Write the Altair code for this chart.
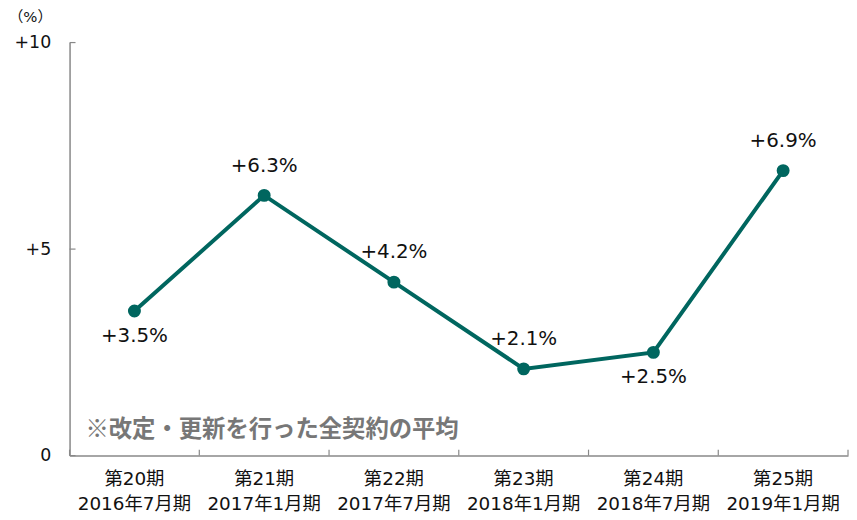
import altair as alt
import pandas as pd

periods = ["第20期\n2016年7月期", "第21期\n2017年1月期", "第22期\n2017年7月期",
           "第23期\n2018年1月期", "第24期\n2018年7月期", "第25期\n2019年1月期"]
values = [3.5, 6.3, 4.2, 2.1, 2.5, 6.9]
labels = ["+3.5%", "+6.3%", "+4.2%", "+2.1%", "+2.5%", "+6.9%"]
label_below = [True, False, False, False, True, False]
y_ticks = [0, 5, 10]
note = "※改定・更新を行った全契約の平均"

df = pd.DataFrame({"period": periods, "value": values, "label": labels, "below": label_below})
tick_df = pd.DataFrame({"value": y_ticks})

FONT = "DejaVu Sans, Noto Sans CJK JP"
COLOR = "#00665F"
AX = "#888888"
W, H = 784, 416

xscale = alt.Scale(domain=periods, paddingInner=0, paddingOuter=0)
xaxis = alt.Axis(labelAngle=0, labelExpr="split(datum.label, '\\n')",
                 labelFont=FONT, labelFontSize=18.5, labelColor="#111",
                 labelPadding=14, labelLineHeight=25, ticks=False, grid=False,
                 domainColor=AX, domainWidth=1.5)
x = alt.X("period:N", sort=periods, title=None, scale=xscale, axis=xaxis)
yscale = alt.Scale(domain=[0, 10], nice=False, zero=True)
yaxis = alt.Axis(values=y_ticks, grid=False, ticks=False,
                 labelExpr="datum.value > 0 ? '+' + datum.label : datum.label",
                 labelFont=FONT, labelFontSize=17.5, labelColor="#111", labelPadding=19,
                 domainColor=AX, domainWidth=1.5,
                 titleAngle=0, titleAlign="left", titleBaseline="top",
                 titleX=-62, titleY=-33, titleFont=FONT, titleFontSize=15,
                 titleFontWeight="normal", titleColor="#111")
y = alt.Y("value:Q", title="（%）", scale=yscale, axis=yaxis)

base = alt.Chart(df)
line = base.mark_line(color=COLOR, strokeWidth=4).encode(x=x, y=y)
pts = base.mark_point(filled=True, color=COLOR, size=170, opacity=1).encode(x=x, y=y)
txt_above = base.transform_filter("!datum.below").mark_text(
    font=FONT, fontSize=20, color="#111", dy=-30, baseline="middle").encode(
    x=x, y=y, text="label:N")
txt_below = base.transform_filter("datum.below").mark_text(
    font=FONT, fontSize=20, color="#111", dy=25, baseline="middle").encode(
    x=x, y=y, text="label:N")

# inward ticks (Excel style)
ytick = alt.Chart(tick_df).mark_rule(color=AX, strokeWidth=1.2).encode(
    y=y, x=alt.value(0), x2=alt.value(6))
xtick = base.mark_rule(color=AX, strokeWidth=1.2).encode(
    x=alt.X("period:N", sort=periods, title=None, scale=xscale, axis=xaxis, bandPosition=0),
    y=alt.value(H), y2=alt.value(H - 6))
xtick_end = alt.Chart(tick_df.head(1)).mark_rule(color=AX, strokeWidth=1.2).encode(
    x=alt.value(W), y=alt.value(H), y2=alt.value(H - 6))

note_df = pd.DataFrame({"t": [note]})
note_txt = alt.Chart(note_df).mark_text(
    font="Noto Sans CJK JP", fontSize=23.5, fontWeight="bold", color="#777777",
    align="left", baseline="middle").encode(
    x=alt.value(16), y=alt.value(390), text="t:N")

chart = alt.layer(line, pts, txt_above, txt_below, note_txt, ytick, xtick, xtick_end).properties(
    width=W, height=H, background="white",
    padding={"left": 0, "top": 0, "right": 0, "bottom": 0}
).configure_view(stroke=None)

chart.save("out.html", embed_options={"renderer": "svg", "actions": False})
